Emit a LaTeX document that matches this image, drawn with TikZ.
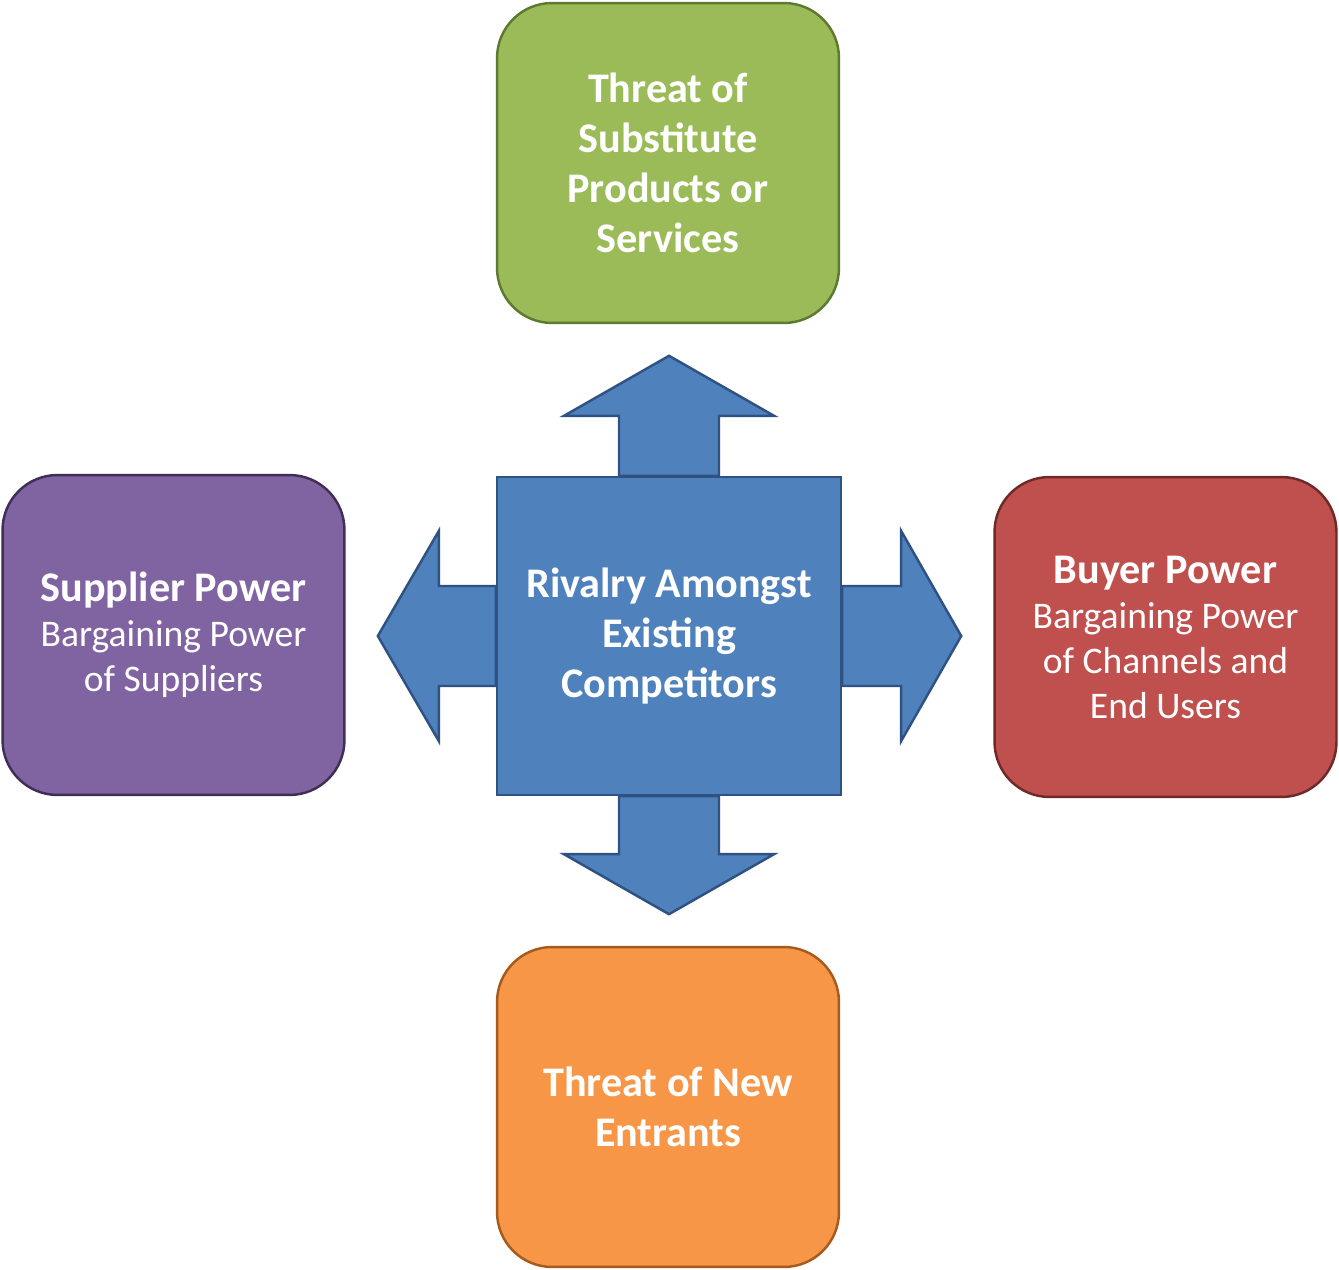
\documentclass[tikz,border=0pt]{standalone}
\usepackage{fontspec}
\setmainfont{Carlito}
\usetikzlibrary{positioning}

\definecolor{subsfill}{HTML}{9BBB59}
\definecolor{subsline}{HTML}{5E7A30}
\definecolor{suppfill}{HTML}{8064A2}
\definecolor{suppline}{HTML}{3F2F57}
\definecolor{buyfill}{HTML}{C0504D}
\definecolor{buyline}{HTML}{6E2A28}
\definecolor{entfill}{HTML}{F79646}
\definecolor{entline}{HTML}{A65A1E}
\definecolor{rivfill}{HTML}{4F81BD}
\definecolor{rivline}{HTML}{2F5282}

\begin{document}
\begin{tikzpicture}[x=0.02cm, y=-0.02cm,
    force/.style={rounded corners=1.1cm, line width=1.4pt, minimum width=6.84cm,
        minimum height=6.4cm, text=white, align=center},
    boldtext/.style={font=\fontsize{24}{28.4}\selectfont\bfseries},
    plaintext/.style={font=\fontsize{21.4}{25.6}\selectfont},
    blockarrow/.style={fill=rivfill, draw=rivline, line width=1.4pt, line join=miter}]
    \useasboundingbox (0,0) rectangle (1339,1270);

    % the four forces
    \node[force, boldtext, fill=subsfill, draw=subsline] (substitutes) at (668,163)
        {Threat of\\Substitute\\Products or\\Services};
    \node[force, plaintext, fill=suppfill, draw=suppline] (suppliers) at (173.5,635)
        {{\fontsize{24}{26.8}\selectfont\bfseries Supplier Power}\\Bargaining Power\\of Suppliers};
    \node[force, plaintext, fill=buyfill, draw=buyline] (buyers) at (1165.5,637)
        {{\fontsize{24}{26.8}\selectfont\bfseries Buyer Power}\\Bargaining Power\\of Channels and\\End Users};
    \node[force, boldtext, fill=entfill, draw=entline] (entrants) at (668,1107)
        {Threat of New\\Entrants};

    % rivalry in the middle
    \node[boldtext, text=white, align=center, fill=rivfill, draw=rivline, line width=1.4pt,
        minimum width=6.88cm, minimum height=6.36cm] (rivalry) at (669,636)
        {Rivalry Amongst\\Existing\\Competitors};

    % block arrows
    \draw[blockarrow] ([xshift=-1cm]rivalry.north) -- ++(0,-60) -- ++(-55,0) -- ++(105,-60)
        -- ++(105,60) -- ++(-55,0) -- ++(0,60) -- cycle;
    \draw[blockarrow] ([xshift=-1cm]rivalry.south) -- ++(0,58) -- ++(-55,0) -- ++(105,60)
        -- ++(105,-60) -- ++(-55,0) -- ++(0,-58) -- cycle;
    \draw[blockarrow] ([yshift=1cm]rivalry.west) -- ++(-57,0) -- ++(0,-55) -- ++(-61,105)
        -- ++(61,105) -- ++(0,-55) -- ++(57,0) -- cycle;
    \draw[blockarrow] ([yshift=1cm]rivalry.east) -- ++(59,0) -- ++(0,-55) -- ++(60,105)
        -- ++(-60,105) -- ++(0,-55) -- ++(-59,0) -- cycle;
\end{tikzpicture}
\end{document}
